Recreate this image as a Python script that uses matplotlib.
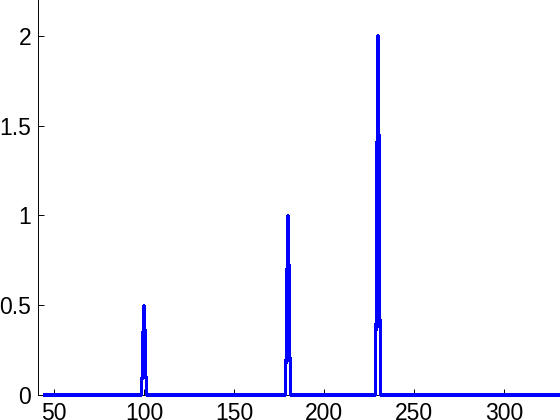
import numpy as np
import matplotlib.pyplot as plt
from matplotlib.ticker import FormatStrFormatter

# signal: flat zero line with three narrow peaks
x_start, x_stop, x_step = 45, 350, 0.5
peak_centers = [100, 180, 230]
peak_heights = [0.5, 1.0, 2.0]
peak_shape = [0.25, 0.75, 1.0, 0.75, 0.25]  # samples around each centre, step 0.5

x = np.arange(x_start, x_stop + x_step, x_step)
y = np.zeros_like(x)
offsets = (np.arange(len(peak_shape)) - len(peak_shape) // 2) * x_step
for c, h in zip(peak_centers, peak_heights):
    for off, s in zip(offsets, peak_shape):
        y[np.isclose(x, c + off)] = h * s

plt.rcParams['font.family'] = ['Liberation Sans', 'DejaVu Sans']

fig = plt.figure(figsize=(5.6, 4.2), dpi=100)
ax = fig.add_axes([38 / 560, 25 / 420, 1 - 38 / 560, 1 - 25 / 420])
ax.plot(x, y, color=(0, 0, 1), linewidth=1.5, antialiased=False,
        clip_on=False, zorder=5)

ax.set_xlim(41.1, 331.1)
ax.set_ylim(0, 2.2)
ax.set_xticks([50, 100, 150, 200, 250, 300])
ax.set_yticks([0, 0.5, 1, 1.5, 2])
ax.yaxis.set_major_formatter(FormatStrFormatter('%g'))
ax.tick_params(direction='in', length=4, width=0.7, labelsize=16.5, pad=5)
ax.spines['top'].set_visible(False)
ax.spines['right'].set_visible(False)
for s in ('left', 'bottom'):
    ax.spines[s].set_linewidth(0.7)

fig.savefig('out.png', dpi=100)
